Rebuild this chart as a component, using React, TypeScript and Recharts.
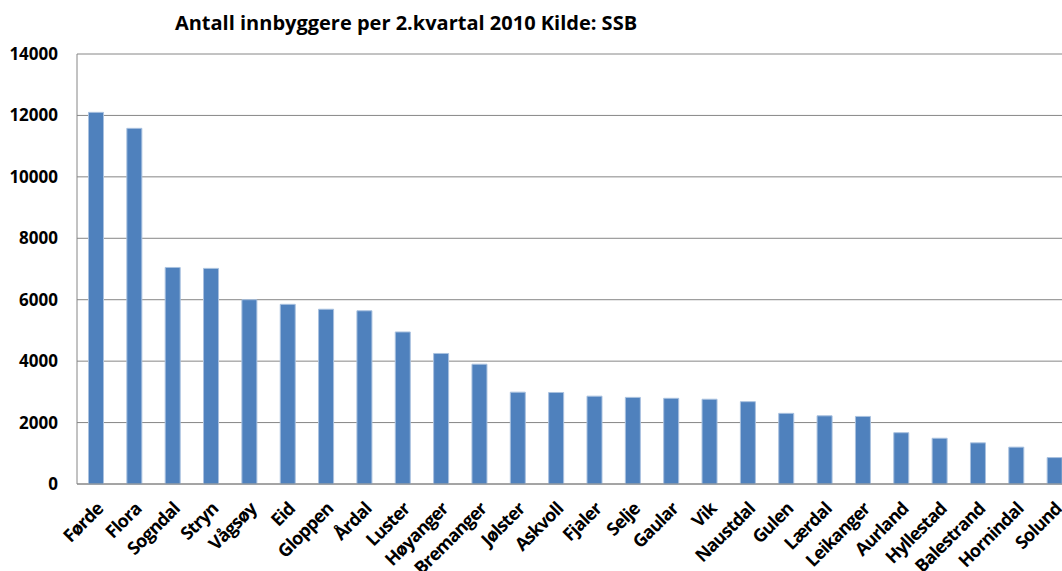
import React from 'react';
import { BarChart, Bar, XAxis, YAxis, CartesianGrid } from 'recharts';

// Innbyggere per kommune, 2. kvartal 2010 (lest av figuren)
const kommuner = [
  'Førde', 'Flora', 'Sogndal', 'Stryn', 'Vågsøy', 'Eid', 'Gloppen', 'Årdal', 'Luster',
  'Høyanger', 'Bremanger', 'Jølster', 'Askvoll', 'Fjaler', 'Selje', 'Gaular', 'Vik',
  'Naustdal', 'Gulen', 'Lærdal', 'Leikanger', 'Aurland', 'Hyllestad', 'Balestrand',
  'Hornindal', 'Solund',
];
const innbyggere = [
  12100, 11580, 7050, 7020, 6000, 5850, 5690, 5640, 4950,
  4250, 3900, 2990, 2980, 2860, 2820, 2790, 2760,
  2680, 2300, 2220, 2200, 1670, 1490, 1340,
  1200, 860,
];
const yTicks = [0, 2000, 4000, 6000, 8000, 10000, 12000, 14000];

const data = kommuner.map((navn, i) => ({ navn, verdi: innbyggere[i] }));

const FONT = '"Open Sans", "Liberation Sans", sans-serif';

const RotatedTick = (props: any) => {
  const { x, y, payload } = props;
  return (
    <g transform={`translate(${x + 8},${y + 18})`}>
      <text
        textAnchor="end"
        transform="rotate(-45)"
        fill="#000"
        fontSize={18}
        letterSpacing={-0.8}
        fontWeight="bold"
        fontFamily={FONT}
      >
        {payload.value}
      </text>
    </g>
  );
};

export default function App() {
  return (
    <div
      style={{
        position: 'fixed',
        left: 0,
        top: 0,
        width: 1062,
        height: 571,
        overflow: 'hidden',
        background: '#fff',
      }}
    >
      <BarChart
        width={1080}
        height={571}
        data={data}
        margin={{ top: 54, right: 6, left: 0, bottom: 0 }}
        barCategoryGap="30%"
      >
        <text
          x={406}
          y={30}
          textAnchor="middle"
          fontSize={20}
          fontWeight="bold"
          fontFamily={FONT}
          fill="#000"
        >
          Antall innbyggere per 2.kvartal 2010 Kilde: SSB
        </text>
        <CartesianGrid vertical={false} stroke="#868686" strokeWidth={1} />
        <XAxis
          dataKey="navn"
          interval={0}
          height={87}
          tickLine={false}
          axisLine={{ stroke: '#868686' }}
          tick={<RotatedTick />}
        />
        <YAxis
          width={77}
          domain={[0, 14000]}
          ticks={yTicks}
          interval={0}
          tickLine={false}
          tickSize={0}
          tickMargin={19}
          axisLine={{ stroke: '#868686' }}
          tick={{ fill: '#000', fontSize: 17, fontWeight: 'bold', fontFamily: FONT }}
        />
        <Bar
          dataKey="verdi"
          fill="#4F81BD"
          stroke="#A9C1DF"
          strokeWidth={1}
          isAnimationActive={false}
        />
      </BarChart>
    </div>
  );
}
